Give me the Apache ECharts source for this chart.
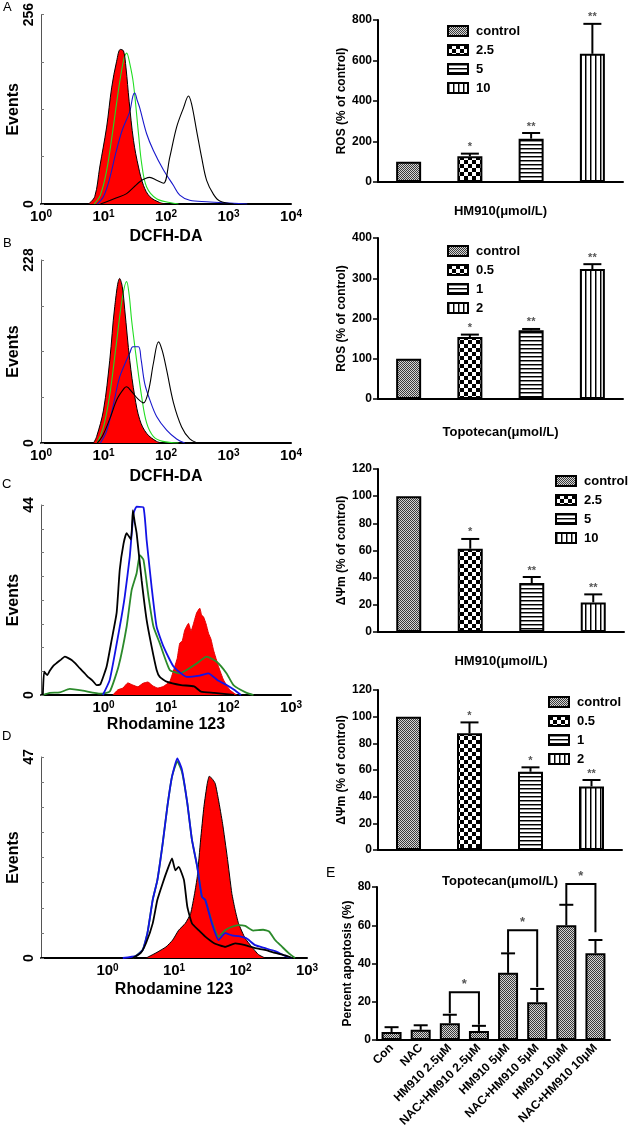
<!DOCTYPE html>
<html>
<head>
<meta charset="utf-8">
<script src="https://cdn.jsdelivr.net/npm/echarts@6/dist/echarts.min.js"></script>
<style>
  html, body { margin: 0; padding: 0; background: #fff; }
  #main { width: 633px; height: 1141px; }
</style>
</head>
<body>
<div id="main"></div>
<script>
// ---- histogram data: [log10 fluorescence, events] ----
const aControl = [[0.76,0],[0.86,10],[0.94,50],[1.05,104],[1.13,157],[1.21,193],[1.27,209],[1.32,207],[1.36,184],[1.41,139],[1.48,86],[1.56,50],[1.64,25],[1.74,10],[1.9,2],[2.0,0]];
const aDose1 = [[0.85,0],[0.95,12],[1.05,45],[1.15,100],[1.25,160],[1.33,198],[1.37,204],[1.42,190],[1.48,162],[1.56,95],[1.61,55],[1.69,23],[1.85,7],[2.06,2],[2.2,0]];
const aDose2 = [[0.9,0],[1.0,10],[1.1,35],[1.2,70],[1.3,100],[1.42,125],[1.47,146],[1.5,150],[1.54,140],[1.58,130],[1.69,95],[1.8,72],[1.96,46],[2.12,25],[2.22,12],[2.38,5],[2.65,3],[3.08,1],[3.3,0]];
const aDose3 = [[0.95,0],[1.05,3],[1.2,8],[1.37,14],[1.5,24],[1.58,30],[1.66,34],[1.74,36],[1.85,32],[1.96,28],[2.06,63],[2.17,104],[2.28,130],[2.36,146],[2.41,135],[2.49,99],[2.57,63],[2.65,32],[2.76,13],[2.86,4],[3.08,0]];

const bControl = [[0.84,0],[0.89,8],[1.0,41],[1.1,103],[1.18,170],[1.26,205],[1.3,195],[1.34,166],[1.42,103],[1.5,58],[1.58,29],[1.69,12],[1.85,2],[1.95,0]];
const bDose1 = [[0.9,0],[1.0,20],[1.1,60],[1.2,120],[1.3,180],[1.37,201],[1.41,185],[1.45,153],[1.53,103],[1.61,58],[1.69,25],[1.8,8],[1.95,2],[2.2,0]];
const bDose2 = [[0.95,0],[1.05,15],[1.15,45],[1.25,80],[1.35,100],[1.42,112],[1.47,120],[1.56,120],[1.6,105],[1.66,74],[1.74,54],[1.85,33],[2.01,16],[2.17,5],[2.3,0]];
const bDose3 = [[0.9,0],[0.98,8],[1.1,30],[1.22,55],[1.33,68],[1.37,70],[1.45,64],[1.55,55],[1.64,50],[1.72,65],[1.8,100],[1.88,126],[1.94,115],[2.01,91],[2.12,50],[2.25,20],[2.38,5],[2.5,0]];

const cControl = [[0.15,0],[0.23,1.2],[0.31,1.6],[0.39,2.8],[0.47,2.3],[0.55,1.9],[0.63,2.7],[0.71,3.0],[0.79,2.1],[0.87,1.6],[0.96,2],[1.06,3.1],[1.14,6.6],[1.18,8.5],[1.22,12],[1.26,12.5],[1.3,15],[1.36,16.6],[1.4,14.8],[1.43,16],[1.49,19],[1.54,20.1],[1.57,18.5],[1.6,18.1],[1.64,16.5],[1.68,14.3],[1.72,12.9],[1.76,10.4],[1.84,6.6],[1.92,3.5],[2.02,1.2],[2.13,0]];
const cDose1 = [[-0.97,0],[-0.86,0.5],[-0.7,0.6],[-0.54,1.4],[-0.33,1],[-0.05,0.3],[0.1,0.8],[0.24,6.6],[0.37,15.8],[0.45,24.3],[0.53,28.2],[0.58,32.4],[0.64,31.3],[0.72,22.8],[0.8,15.8],[0.9,12],[1.06,5.8],[1.22,5.0],[1.33,5.8],[1.49,7.3],[1.65,8.9],[1.81,7.7],[1.97,5.0],[2.08,2.3],[2.29,0.5],[2.4,0]];
const cDose2 = [[-0.01,0],[0.1,3.5],[0.26,15.8],[0.34,22.8],[0.42,32],[0.48,42],[0.53,43.6],[0.64,43.4],[0.69,35.9],[0.77,25],[0.85,15.8],[0.96,11.2],[1.12,6.6],[1.33,4.2],[1.54,4.5],[1.68,5.0],[1.82,3.5],[1.97,2.3],[2.09,1.2],[2.2,0]];
const cDose3 = [[-0.97,0],[-0.95,5.4],[-0.9,4.6],[-0.86,5.6],[-0.8,6.8],[-0.75,7.4],[-0.68,8.2],[-0.62,8.9],[-0.57,8.6],[-0.51,8.1],[-0.45,7.3],[-0.38,6.2],[-0.3,5.0],[-0.25,4.2],[-0.18,3.4],[-0.11,2.3],[-0.05,2.5],[0.05,6.6],[0.13,12.7],[0.21,19],[0.26,29],[0.32,35],[0.37,37.5],[0.44,36],[0.47,42.8],[0.5,40],[0.53,37.5],[0.61,26.6],[0.69,17.4],[0.77,11.2],[0.85,5.8],[0.9,4.2],[1.01,3.1],[1.24,2.3],[1.45,2],[1.56,0.8],[1.77,0.5],[2.09,0]];

const dControl = [[0.58,0],[0.73,1.2],[0.88,2.6],[0.98,4.2],[1.07,6.5],[1.17,8.1],[1.25,10.4],[1.31,15.1],[1.35,19],[1.4,27.6],[1.45,35.4],[1.5,40.8],[1.53,42.5],[1.57,42],[1.62,40.8],[1.67,36.9],[1.73,31.5],[1.8,23.7],[1.87,15.1],[1.92,11.2],[1.97,8.1],[2.07,4.6],[2.17,2.6],[2.27,0.8],[2.37,0]];
const dDose1 = [[0.38,0],[0.45,0.8],[0.53,1.9],[0.6,5.8],[0.68,13.6],[0.75,18.2],[0.83,26.8],[0.9,35.4],[0.97,42.4],[1.05,46],[1.12,43.5],[1.2,36.2],[1.27,27.6],[1.35,21.3],[1.42,14.3],[1.47,13.6],[1.57,8.5],[1.67,5.0],[1.77,6.5],[1.87,7.3],[1.97,7.7],[2.07,7.5],[2.19,6.4],[2.34,6.6],[2.43,6.2],[2.52,4.2],[2.62,2.7],[2.72,1.2],[2.82,0]];
const dDose2 = [[0.23,0],[0.43,0.5],[0.53,1.9],[0.6,5.8],[0.68,13.6],[0.75,18.2],[0.83,26.8],[0.9,35.4],[0.97,42.4],[1.05,46.7],[1.12,44],[1.2,36.2],[1.27,27.6],[1.35,21.3],[1.42,14.3],[1.47,13.6],[1.57,8.1],[1.67,4.2],[1.77,5.8],[1.87,5.3],[1.97,5.1],[2.09,4.6],[2.22,3.0],[2.37,2.3],[2.52,1.6],[2.67,0.5],[2.77,0]];
const dDose3 = [[0.38,0],[0.5,1.2],[0.58,3.5],[0.68,8.1],[0.75,13.6],[0.83,17.5],[0.9,20.6],[0.97,23.3],[1.02,20.5],[1.07,21.3],[1.15,18.2],[1.2,12],[1.27,8.1],[1.37,6.5],[1.47,5.0],[1.61,3.4],[1.77,2.6],[1.92,3.4],[2.07,3.0],[2.22,2.3],[2.37,1.9],[2.52,1.2],[2.67,0.6],[2.77,0]];

const histXName = ['DCFH-DA', 'DCFH-DA', 'Rhodamine 123', 'Rhodamine 123'];
const histYMax = [256, 228, 44, 47];
const histYStep = [64, 57, 5.5, 5.875];
const histXMin = [0, 0, -1, -1];
const histXMax = [4, 4, 3, 3];

// ---- bar chart data ----
const hm910Doses = ['control', '2.5', '5', '10'];
const topoDoses = ['control', '0.5', '1', '2'];

const rosHm910 = [100, 127, 214, 633];
const rosHm910Top = [100, 140, 242, 781];
const rosHm910Sig = ['', '*', '**', '**'];

const rosTopo = [100, 154, 171, 323];
const rosTopoTop = [100, 160, 174, 335];
const rosTopoSig = ['', '*', '**', '**'];

const mmpHm910 = [100, 61.3, 36, 21.8];
const mmpHm910Top = [100, 68.5, 40.5, 27.7];
const mmpHm910Sig = ['', '*', '**', '**'];

const mmpTopo = [100, 87.5, 58.7, 47.7];
const mmpTopoTop = [100, 95.7, 62, 52.5];
const mmpTopoSig = ['', '*', '*', '**'];

const apoGroups = ['Con', 'NAC', 'HM910 2.5μM', 'NAC+HM910 2.5μM', 'HM910 5μM', 'NAC+HM910 5μM', 'HM910 10μM', 'NAC+HM910 10μM'];
const apoMean = [4.2, 5.3, 8.8, 4.7, 35.1, 19.8, 60, 45.3];
const apoTop = [6.7, 7.7, 13.2, 7.4, 45.3, 26.7, 70.7, 52.3];
const bracketLeft = [2, 4, 6];
const bracketRight = [3, 5, 7];
const bracketY = [25, 57.4, 81.6];
const bracketLeftEnd = [14, 45.6, 71];
const bracketRightEnd = [8, 27.7, 56.3];

const FONT = "'Liberation Sans', Arial, sans-serif";

function pattern(kind) {
  const c = document.createElement('canvas');
  const g = c.getContext('2d');
  if (kind === 0) {
    c.width = 2; c.height = 2;
    g.fillStyle = '#d4d4d4'; g.fillRect(0, 0, 2, 2);
    g.fillStyle = '#3a3a3a'; g.fillRect(0, 0, 1, 1); g.fillRect(1, 1, 1, 1);
  } else if (kind === 1) {
    c.width = 8; c.height = 8;
    g.fillStyle = '#fff'; g.fillRect(0, 0, 8, 8);
    g.fillStyle = '#000'; g.fillRect(0, 0, 4, 4); g.fillRect(4, 4, 4, 4);
  } else if (kind === 2) {
    c.width = 4; c.height = 4;
    g.fillStyle = '#fff'; g.fillRect(0, 0, 4, 4);
    g.fillStyle = '#000'; g.fillRect(0, 0, 4, 1);
    g.fillStyle = '#888'; g.fillRect(0, 1, 4, 1);
  } else {
    c.width = 5; c.height = 5;
    g.fillStyle = '#fff'; g.fillRect(0, 0, 5, 5);
    g.fillStyle = '#000'; g.fillRect(0, 0, 1, 5);
    g.fillStyle = '#888'; g.fillRect(1, 0, 1, 5);
  }
  return { image: c, repeat: 'repeat' };
}
const pats = [pattern(0), pattern(1), pattern(2), pattern(3)];

const grid = [], xAxis = [], yAxis = [], series = [], legend = [];

// ---- histogram panels ----
const histBoxes = [
  { left: 41, top: 13, width: 250, height: 191, nameGap: 25 },
  { left: 41, top: 260, width: 250, height: 183, nameGap: 26 },
  { left: 41, top: 505, width: 250, height: 190, nameGap: 22 },
  { left: 41, top: 757, width: 266, height: 201, nameGap: 24 }
];
const histCurves = [
  [[aDose1, 'g'], [aDose2, 'b'], [aControl, 'r'], [aDose3, 'k']],
  [[bDose1, 'g'], [bDose2, 'b'], [bControl, 'r'], [bDose3, 'k']],
  [[cControl, 'r'], [cDose1, 'g'], [cDose2, 'b'], [cDose3, 'k']],
  [[dControl, 'r'], [dDose1, 'g'], [dDose2, 'b'], [dDose3, 'k']]
];

histBoxes.forEach((box, k) => {
  const thick = k >= 2;
  grid.push({ left: box.left, top: box.top, width: box.width, height: box.height });
  xAxis.push({
    gridIndex: k, type: 'value', min: histXMin[k], max: histXMax[k], interval: 1,
    name: histXName[k], nameLocation: 'middle', nameGap: box.nameGap,
    nameTextStyle: { fontFamily: FONT, fontWeight: 'bold', fontSize: 16, color: '#000' },
    axisLine: { show: true, onZero: false, lineStyle: { color: '#000', width: 2 } },
    axisTick: { show: false },
    splitLine: { show: false },
    axisLabel: {
      margin: 5,
      formatter: v => (v < 0 ? '' : '{b|10}{s|' + v + '}'),
      rich: {
        b: { fontFamily: FONT, fontWeight: 'bold', fontSize: 15, color: '#000' },
        s: { fontFamily: FONT, fontWeight: 'bold', fontSize: 10, color: '#000', verticalAlign: 'top', padding: [0, 0, 6, 0] }
      }
    }
  });
  yAxis.push({
    gridIndex: k, type: 'value', min: 0, max: histYMax[k], interval: histYStep[k],
    name: 'Events', nameLocation: 'middle', nameGap: 15,
    nameTextStyle: { fontFamily: FONT, fontWeight: 'bold', fontSize: 16, color: '#000' },
    axisLine: { show: true, onZero: false, lineStyle: { color: '#555', width: 1 } },
    axisTick: { show: true, inside: true, length: 3, lineStyle: { color: '#777', width: 1 } },
    splitLine: { show: false },
    axisLabel: {
      rotate: 90, margin: 5, fontFamily: FONT, fontWeight: 'bold', fontSize: 14, color: '#000',
      formatter: v => (v === 0 || v === histYMax[k] ? String(v) : '')
    }
  });
  histCurves[k].forEach(([data, c]) => {
    const colorMap = thick
      ? { g: '#2b8a2b', b: '#1212e6', k: '#000', r: '#b00000' }
      : { g: '#22dd22', b: '#1818cc', k: '#000', r: '#000' };
    const s = {
      type: 'line', xAxisIndex: k, yAxisIndex: k, data, showSymbol: false,
      smooth: thick ? 0.15 : 0.35, silent: true,
      lineStyle: { color: colorMap[c], width: thick ? 1.8 : 1.1 }
    };
    if (c === 'r') {
      s.areaStyle = { color: '#ff0000', opacity: 1 };
      s.lineStyle = { color: k === 2 ? '#e00000' : '#000', width: 1 };
    }
    series.push(s);
  });
});

// ---- bar panels ----
function addBarPanel(k, box, cats, means, tops, sigs, xName, yName, yMax, yStep, leg, barW, rotLabels) {
  grid.push({ left: box.left, top: box.top, width: box.width, height: box.height });
  xAxis.push({
    gridIndex: k, type: 'category', data: cats,
    name: xName, nameLocation: 'middle', nameGap: box.nameGap,
    nameTextStyle: { fontFamily: FONT, fontWeight: 'bold', fontSize: 13, color: '#000' },
    axisLine: { lineStyle: { color: '#000', width: 2 } },
    axisTick: { alignWithLabel: true, length: 5, lineStyle: { color: '#000', width: 1.5 } },
    axisLabel: rotLabels
      ? { show: true, interval: 0, rotate: 45, margin: 6, fontFamily: FONT, fontWeight: 'bold', fontSize: 12, color: '#000' }
      : { show: false },
    splitLine: { show: false }
  });
  yAxis.push({
    gridIndex: k, type: 'value', min: 0, max: yMax, interval: yStep,
    name: yName, nameLocation: 'middle', nameGap: box.yGap,
    nameTextStyle: { fontFamily: FONT, fontWeight: 'bold', fontSize: 12, color: '#000' },
    axisLine: { show: true, lineStyle: { color: '#000', width: 2 } },
    axisTick: { show: true, length: 5, lineStyle: { color: '#000', width: 1.5 } },
    axisLabel: { margin: 6, fontFamily: FONT, fontWeight: 'bold', fontSize: 12, color: '#000' },
    splitLine: { show: false }
  });
  if (leg) {
    cats.forEach((name, i) => {
      series.push({
        type: 'bar', name, xAxisIndex: k, yAxisIndex: k, barWidth: barW, barGap: '-100%',
        data: cats.map((_, j) => (j === i ? means[i] : '-')),
        itemStyle: { color: pats[i], borderColor: '#000', borderWidth: 2 },
        silent: true
      });
    });
    legend.push({
      data: cats, orient: 'vertical', left: leg.left, top: leg.top, icon: 'rect',
      itemWidth: 20, itemHeight: 10, itemGap: 5, selectedMode: false,
      textStyle: { fontFamily: FONT, fontWeight: 'bold', fontSize: 13, color: '#000', lineHeight: 14, padding: [0, 0, 0, 3] }
    });
  } else {
    series.push({
      type: 'bar', xAxisIndex: k, yAxisIndex: k, barWidth: barW, data: means,
      itemStyle: { color: pats[0], borderColor: '#000', borderWidth: 2 }, silent: true
    });
  }
  const cap = barW === 25 ? 9 : 7;
  series.push({
    type: 'custom', xAxisIndex: k, yAxisIndex: k, silent: true, clip: false, z: 3,
    data: means.map((m, i) => [i, m, tops[i]]),
    renderItem(params, api) {
      const i = api.value(0);
      const base = api.coord([i, api.value(1)]);
      const top = api.coord([i, api.value(2)]);
      const children = [];
      if (api.value(2) > api.value(1)) {
        children.push({ type: 'line', shape: { x1: top[0], y1: base[1], x2: top[0], y2: top[1] }, style: { stroke: '#000', lineWidth: 2 } });
        children.push({ type: 'line', shape: { x1: top[0] - cap, y1: top[1], x2: top[0] + cap, y2: top[1] }, style: { stroke: '#000', lineWidth: 2 } });
      }
      const sig = sigs ? sigs[params.dataIndex] : '';
      if (sig) {
        children.push({ type: 'text', x: top[0], y: top[1] - 1, style: { text: sig, fill: '#555', font: 'bold 11px ' + FONT, align: 'center', verticalAlign: 'bottom' } });
      }
      return { type: 'group', children };
    }
  });
}

addBarPanel(4, { left: 378, top: 20, width: 245, height: 162, nameGap: 23, yGap: 27 },
  hm910Doses, rosHm910, rosHm910Top, rosHm910Sig, 'HM910(μmol/L)', 'ROS (% of control)', 800, 200,
  { left: 442, top: 19 }, 25, false);
addBarPanel(5, { left: 378, top: 238, width: 245, height: 161, nameGap: 27, yGap: 27 },
  topoDoses, rosTopo, rosTopoTop, rosTopoSig, 'Topotecan(μmol/L)', 'ROS (% of control)', 400, 100,
  { left: 442, top: 239 }, 25, false);
addBarPanel(6, { left: 378, top: 469, width: 246, height: 163, nameGap: 23, yGap: 30 },
  hm910Doses, mmpHm910, mmpHm910Top, mmpHm910Sig, 'HM910(μmol/L)', 'ΔΨm (% of control)', 120, 20,
  { left: 550, top: 469 }, 25, false);
addBarPanel(7, { left: 378, top: 690, width: 244, height: 160, nameGap: 25, yGap: 30 },
  topoDoses, mmpTopo, mmpTopoTop, mmpTopoSig, 'Topotecan(μmol/L)', 'ΔΨm (% of control)', 120, 20,
  { left: 543, top: 690 }, 25, false);
addBarPanel(8, { left: 377, top: 887, width: 233, height: 153, nameGap: 0, yGap: 18 },
  apoGroups, apoMean, apoTop, null, '', 'Percent apoptosis (%)', 80, 20,
  null, 20, true);

// significance brackets in panel E
series.push({
  type: 'custom', xAxisIndex: 8, yAxisIndex: 8, silent: true, clip: false, z: 4,
  data: bracketLeft.map((l, i) => [l, bracketRight[i], bracketY[i], bracketLeftEnd[i], bracketRightEnd[i]]),
  renderItem(params, api) {
    const p1 = api.coord([api.value(0), api.value(3)]);
    const p2 = api.coord([api.value(0), api.value(2)]);
    const p3 = api.coord([api.value(1), api.value(2)]);
    const p4 = api.coord([api.value(1), api.value(4)]);
    return {
      type: 'group',
      children: [
        { type: 'polyline', shape: { points: [p1, p2, p3, p4] }, style: { stroke: '#000', lineWidth: 2, fill: null } },
        { type: 'text', x: (p2[0] + p3[0]) / 2, y: p2[1] - 1, style: { text: '*', fill: '#555', font: 'bold 13px ' + FONT, align: 'center', verticalAlign: 'bottom' } }
      ]
    };
  }
});

const letter = (t, x, y, size) => ({ type: 'text', left: x, top: y, style: { text: t, fill: '#000', font: size + 'px ' + FONT } });

const chart = echarts.init(document.getElementById('main'));
chart.setOption({
  backgroundColor: '#fff',
  animation: false,
  textStyle: { fontFamily: FONT },
  grid, xAxis, yAxis, series, legend,
  graphic: [
    letter('A', 3, 1, 13),
    letter('B', 3, 237, 13),
    letter('C', 2, 478, 13),
    letter('D', 2, 730, 13),
    letter('E', 326, 866, 14)
  ]
});
</script>
</body>
</html>
